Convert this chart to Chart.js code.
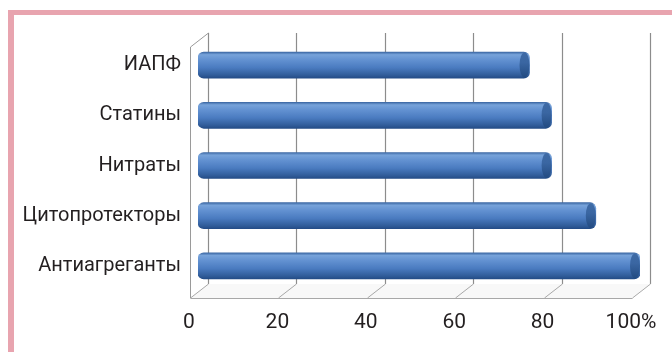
<!DOCTYPE html>
<html>
<head>
<meta charset="utf-8">
<script src="https://cdn.jsdelivr.net/npm/chart.js@4"></script>
<style>
  html, body { margin: 0; padding: 0; background: #ffffff; overflow: hidden; }
  #frame { position: absolute; left: 8px; top: 10px; width: 700px; height: 400px;
           border-left: 6px solid #e8a4af; border-top: 5px solid #e8a4af; box-sizing: border-box; }
  #c { position: absolute; left: 0; top: 0; }
</style>
</head>
<body>
<div id="frame"></div>
<canvas id="c" width="672" height="352"></canvas>
<script>
const categories = ['ИАПФ', 'Статины', 'Нитраты', 'Цитопротекторы', 'Антиагреганты'];
const values = [75, 80, 80, 90, 100];
const tickValues = [0, 20, 40, 60, 80, 100];
const tickLabels = ['0', '20', '40', '60', '80', '100%'];

const FONT = "Roboto, 'Liberation Sans', sans-serif";
const BACK_DX = 10, BACK_DY = -7, FRONT_DX = -8, FRONT_DY = 7;

const frame3d = {
  id: 'frame3d',
  beforeDatasetsDraw(chart) {
    const ctx = chart.ctx, xs = chart.scales.x, ca = chart.chartArea;
    const backTop = ca.top + BACK_DY, backBottom = ca.bottom + BACK_DY, frontBottom = ca.bottom + FRONT_DY;
    ctx.save();
    const x0 = xs.getPixelForValue(tickValues[0]);
    const x1 = xs.getPixelForValue(tickValues[tickValues.length - 1]);
    ctx.fillStyle = '#f8f8f8';
    ctx.beginPath();
    ctx.moveTo(x0 + BACK_DX, backBottom);
    ctx.lineTo(x1 + BACK_DX, backBottom);
    ctx.lineTo(x1 + FRONT_DX, frontBottom);
    ctx.lineTo(x0 + FRONT_DX, frontBottom);
    ctx.closePath();
    ctx.fill();
    ctx.lineWidth = 1.2;
    ctx.strokeStyle = '#8c8c8c';
    tickValues.forEach(v => {
      const px = Math.round(xs.getPixelForValue(v)) + 0.5;
      ctx.beginPath();
      ctx.moveTo(px + BACK_DX, backTop);
      ctx.lineTo(px + BACK_DX, backBottom);
      ctx.stroke();
    });
    ctx.lineWidth = 1;
    ctx.strokeStyle = '#a8a8a8';
    tickValues.forEach(v => {
      const px = Math.round(xs.getPixelForValue(v)) + 0.5;
      ctx.beginPath();
      ctx.moveTo(px + BACK_DX, backBottom);
      ctx.lineTo(px + FRONT_DX, frontBottom);
      ctx.stroke();
    });
    ctx.beginPath();
    ctx.moveTo(Math.round(x0) + 0.5 + FRONT_DX, frontBottom + 0.5);
    ctx.lineTo(Math.round(x1) + 0.5 + FRONT_DX, frontBottom + 0.5);
    ctx.stroke();
    ctx.strokeStyle = '#9a9a9a';
    ctx.beginPath();
    ctx.moveTo(Math.round(x0) + 0.5 + FRONT_DX, frontBottom);
    ctx.lineTo(Math.round(x0) + 0.5 + FRONT_DX, ca.top + FRONT_DY);
    ctx.lineTo(Math.round(x0) + 0.5 + BACK_DX, backTop);
    ctx.stroke();
    ctx.restore();
  },
  afterDatasetsDraw(chart) {
    const ctx = chart.ctx;
    const meta = chart.getDatasetMeta(0);
    ctx.save();
    meta.data.forEach(el => {
      const h = el.height / 2;
      const rx = 5;
      const g = ctx.createLinearGradient(0, el.y - h, 0, el.y + h);
      g.addColorStop(0, '#3f6ba6');
      g.addColorStop(0.4, '#3a66a2');
      g.addColorStop(1, '#224a80');
      ctx.fillStyle = g;
      ctx.beginPath();
      ctx.ellipse(el.x - rx, el.y, rx, h - 0.5, 0, 0, Math.PI * 2);
      ctx.fill();
    });
    ctx.restore();
  }
};

function barGradient(context) {
  const chart = context.chart;
  const ys = chart.scales.y;
  if (!ys || context.dataIndex === undefined) return '#4f81bd';
  const cy = ys.getPixelForValue(context.dataIndex);
  if (!isFinite(cy)) return '#4f81bd';
  const h = 13;
  const g = chart.ctx.createLinearGradient(0, cy - h, 0, cy + h);
  g.addColorStop(0, '#3d69a5');
  g.addColorStop(0.1, '#77a3da');
  g.addColorStop(0.3, '#6291d1');
  g.addColorStop(0.6, '#4a7bc0');
  g.addColorStop(0.88, '#315d9a');
  g.addColorStop(1, '#244c86');
  return g;
}

new Chart(document.getElementById('c'), {
  type: 'bar',
  data: {
    labels: categories,
    datasets: [{
      data: values,
      backgroundColor: barGradient,
      borderWidth: 0,
      borderSkipped: false,
      borderRadius: 6,
      barThickness: 26
    }]
  },
  options: {
    indexAxis: 'y',
    responsive: false,
    animation: false,
    devicePixelRatio: 1,
    layout: { padding: { left: 0, right: 32, top: 40, bottom: 0 } },
    plugins: { legend: { display: false }, tooltip: { enabled: false } },
    scales: {
      x: {
        min: 0, max: 100,
        grid: { display: false, drawTicks: false },
        border: { display: false },
        afterFit(s) { s.height = 61; s.paddingLeft = 0; s.paddingRight = 0; },
        afterBuildTicks(s) { s.ticks = tickValues.map(v => ({ value: v })); },
        ticks: {
          padding: 19,
          labelOffset: -9,
          color: '#231f20',
          font: { family: FONT, size: 21 },
          maxRotation: 0,
          callback: (v) => tickLabels[tickValues.indexOf(v)]
        }
      },
      y: {
        grid: { display: false, drawTicks: false },
        border: { display: false },
        afterFit(s) { s.width = 198; s.paddingTop = 0; s.paddingBottom = 0; },
        ticks: {
          padding: 17,
          color: '#231f20',
          font: { family: FONT, size: 20 }
        }
      }
    }
  },
  plugins: [frame3d]
});
</script>
</body>
</html>
